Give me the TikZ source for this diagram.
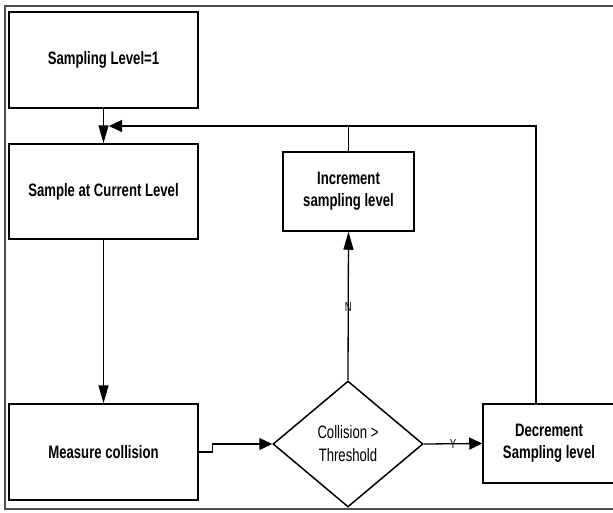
\documentclass[tikz,border=0pt]{standalone}
\usepackage{fontspec}
\setmainfont{Liberation Sans}[FakeStretch=0.73]
\usetikzlibrary{shapes.geometric,arrows.meta}
\tikzset{
  box/.style={draw, line width=1.5pt, rectangle, inner sep=2pt, align=center, font=\bfseries\fontsize{18}{22}\selectfont},
  vconn/.style={line width=1.3pt, -{Triangle[length=18pt,width=10pt]}},
  hconn/.style={line width=1.3pt, -{Triangle[length=13pt,width=12pt]}},
  thin/.style={line width=0.7pt},
  lbl/.style={inner sep=0pt, font=\fontsize{13}{13}\selectfont},
}
\begin{document}
\begin{tikzpicture}[x=1pt,y=-1pt]
\useasboundingbox (0,0) rectangle (613,512);
% outer frame (open on the right, cropped)
\draw[line width=1.3pt, black!70] (620,6) -- (5,6) -- (5,509) -- (620,509);

\node[box, minimum width=189pt, minimum height=96pt] (init) at (103.5,60) {Sampling Level=1};
\node[box, minimum width=189pt, minimum height=95pt] (samp) at (103.5,191.5) {Sample at Current Level};
\node[box, minimum width=189pt, minimum height=96pt] (meas) at (103.5,452) {Measure collision};
\node[box, minimum width=131pt, minimum height=79pt] (inc) at (348.5,191.5) {Increment\\sampling level};
\node[box, minimum width=132pt, minimum height=79pt] (dec) at (549,443.5) {Decrement\\Sampling level};
\node[draw, diamond, line width=1.5pt, inner sep=0pt, minimum width=150pt, minimum height=126pt, align=center, font=\fontsize{18}{23}\selectfont] (dia) at (348,444) {Collision >\\Threshold};

\coordinate (fbtip) at (109,126);
\coordinate (fbinc) at (348.5,126);

\draw[vconn] (init) -- (samp);
\draw[vconn] (samp) -- (meas);
\draw[hconn] (meas.east) -- ++(14,0) |- (dia.west);
\draw[vconn] (dia.north) -- node[lbl, pos=0.49] {N} (inc.south);
\draw[hconn] (dia.east) -- node[lbl, pos=0.5] {Y} (dec.west);
\draw[hconn] (dec.north -| 536,0) |- (fbtip);
\draw[thin] (inc.north) -- (fbinc);
\end{tikzpicture}
\end{document}
